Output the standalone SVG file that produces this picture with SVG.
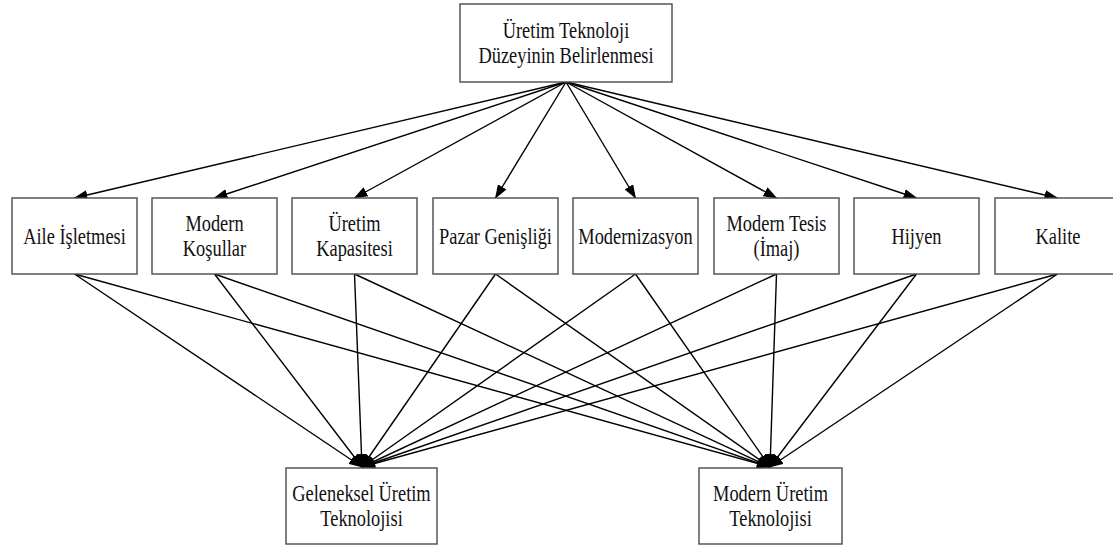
<svg xmlns="http://www.w3.org/2000/svg" width="1113" height="548" viewBox="0 0 1113 548">
<style>
.box{fill:#fff;stroke:#4a4a4a;stroke-width:1.4}
.t{font-family:"Liberation Serif","Times New Roman",serif;font-size:23px;fill:#111;text-anchor:middle}
.c{stroke:#000;stroke-width:1.4;fill:none;marker-end:url(#ah)}
</style>
<defs>
<marker id="ah" markerUnits="userSpaceOnUse" markerWidth="14" markerHeight="10" refX="13" refY="5" orient="auto">
<path d="M0,0 L14,5 L0,10 Z" fill="#000"/>
</marker>
</defs>
<rect width="1113" height="548" fill="#fff"/>
<g id="connectors">
<line class="c" x1="566" y1="82" x2="74.5" y2="198"/>
<line class="c" x1="566" y1="82" x2="214.5" y2="198"/>
<line class="c" x1="566" y1="82" x2="354.5" y2="198"/>
<line class="c" x1="566" y1="82" x2="495.5" y2="198"/>
<line class="c" x1="566" y1="82" x2="635.5" y2="198"/>
<line class="c" x1="566" y1="82" x2="776.5" y2="198"/>
<line class="c" x1="566" y1="82" x2="916.5" y2="198"/>
<line class="c" x1="566" y1="82" x2="1057.5" y2="198"/>
<line class="c" x1="74.5" y1="274" x2="362" y2="467"/>
<line class="c" x1="214.5" y1="274" x2="362" y2="467"/>
<line class="c" x1="354.5" y1="274" x2="362" y2="467"/>
<line class="c" x1="495.5" y1="274" x2="362" y2="467"/>
<line class="c" x1="635.5" y1="274" x2="362" y2="467"/>
<line class="c" x1="776.5" y1="274" x2="362" y2="467"/>
<line class="c" x1="916.5" y1="274" x2="362" y2="467"/>
<line class="c" x1="1057.5" y1="274" x2="362" y2="467"/>
<line class="c" x1="74.5" y1="274" x2="770" y2="467"/>
<line class="c" x1="214.5" y1="274" x2="770" y2="467"/>
<line class="c" x1="354.5" y1="274" x2="770" y2="467"/>
<line class="c" x1="495.5" y1="274" x2="770" y2="467"/>
<line class="c" x1="635.5" y1="274" x2="770" y2="467"/>
<line class="c" x1="776.5" y1="274" x2="770" y2="467"/>
<line class="c" x1="916.5" y1="274" x2="770" y2="467"/>
<line class="c" x1="1057.5" y1="274" x2="770" y2="467"/>
</g>
<g id="top">
<rect class="box" x="460" y="4" width="212" height="78"/>
<text class="t" transform="translate(566,0) scale(0.8,1)"><tspan x="0" y="38">Üretim Teknoloji</tspan><tspan x="0" y="63">Düzeyinin Belirlenmesi</tspan></text>
</g>
<g id="n1">
<rect class="box" x="12" y="198" width="125" height="76"/>
<text class="t" transform="translate(74.5,0) scale(0.8,1)" x="0" y="244">Aile İşletmesi</text>
</g>
<g id="n2">
<rect class="box" x="152" y="198" width="125" height="76"/>
<text class="t" transform="translate(214.5,0) scale(0.8,1)"><tspan x="0" y="231">Modern</tspan><tspan x="0" y="256">Koşullar</tspan></text>
</g>
<g id="n3">
<rect class="box" x="292" y="198" width="125" height="76"/>
<text class="t" transform="translate(354.5,0) scale(0.8,1)"><tspan x="0" y="231">Üretim</tspan><tspan x="0" y="256">Kapasitesi</tspan></text>
</g>
<g id="n4">
<rect class="box" x="433" y="198" width="125" height="76"/>
<text class="t" transform="translate(495.5,0) scale(0.8,1)" x="0" y="244">Pazar Genişliği</text>
</g>
<g id="n5">
<rect class="box" x="573" y="198" width="125" height="76"/>
<text class="t" transform="translate(635.5,0) scale(0.8,1)" x="0" y="244">Modernizasyon</text>
</g>
<g id="n6">
<rect class="box" x="714" y="198" width="125" height="76"/>
<text class="t" transform="translate(776.5,0) scale(0.8,1)"><tspan x="0" y="231">Modern Tesis</tspan><tspan x="0" y="256">(İmaj)</tspan></text>
</g>
<g id="n7">
<rect class="box" x="854" y="198" width="125" height="76"/>
<text class="t" transform="translate(916.5,0) scale(0.8,1)" x="0" y="244">Hijyen</text>
</g>
<g id="n8">
<rect class="box" x="995" y="198" width="125" height="76"/>
<text class="t" transform="translate(1058,0) scale(0.8,1)" x="0" y="244">Kalite</text>
</g>
<g id="b1">
<rect class="box" x="286" y="468" width="151" height="76"/>
<text class="t" transform="translate(361.5,0) scale(0.8,1)"><tspan x="0" y="501">Geleneksel Üretim</tspan><tspan x="0" y="526">Teknolojisi</tspan></text>
</g>
<g id="b2">
<rect class="box" x="699" y="468" width="143" height="76"/>
<text class="t" transform="translate(770.5,0) scale(0.8,1)"><tspan x="0" y="501">Modern Üretim</tspan><tspan x="0" y="526">Teknolojisi</tspan></text>
</g>
</svg>
